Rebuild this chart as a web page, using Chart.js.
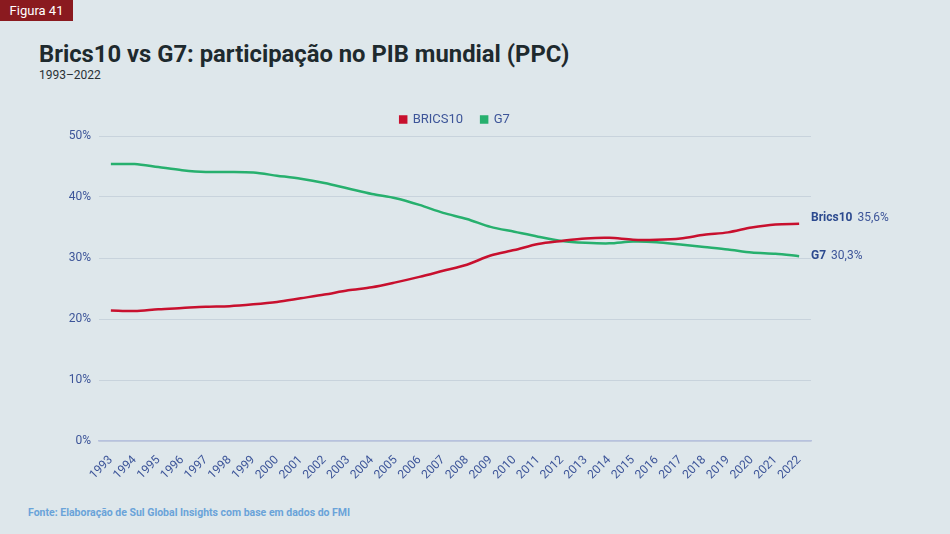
<!DOCTYPE html>
<html><head><meta charset="utf-8">
<script src="https://cdn.jsdelivr.net/npm/chart.js@4/dist/chart.umd.min.js"></script>
<style>
html,body{margin:0;padding:0;}
body{width:950px;height:534px;background:#dee7eb;position:relative;overflow:hidden;font-family:Roboto,"Noto Sans",sans-serif;}
#badge{position:absolute;left:0;top:0;width:73px;height:21px;background:#8a1a1f;color:#fff;font-size:13px;line-height:21px;text-align:center;}
#title{position:absolute;left:39px;top:40px;font-size:23.8px;font-weight:700;color:#1e2a2e;white-space:nowrap;}
#sub{position:absolute;left:39px;top:68px;font-size:12px;color:#2a3236;}
#src{position:absolute;left:28px;top:506px;font-size:10.5px;font-weight:700;color:#6aa3d9;white-space:nowrap;}
#wrap{position:absolute;left:0;top:89px;width:950px;height:411px;}
</style></head>
<body>
<div id="badge">Figura 41</div>
<div id="title">Brics10 vs G7: participação no PIB mundial (PPC)</div>
<div id="sub">1993–2022</div>
<div id="wrap"><canvas id="c"></canvas></div>
<div id="src">Fonte: Elaboração de Sul Global Insights com base em dados do FMI</div>
<script>
const years = ["1993","1994","1995","1996","1997","1998","1999","2000","2001","2002","2003","2004","2005","2006","2007","2008","2009","2010","2011","2012","2013","2014","2015","2016","2017","2018","2019","2020","2021","2022"];
const brics10 = [21.4,21.3,21.6,21.8,22.0,22.1,22.4,22.8,23.4,24.0,24.7,25.2,26.0,26.9,27.9,28.9,30.4,31.3,32.3,32.8,33.2,33.3,33.0,33.0,33.2,33.8,34.2,35.0,35.5,35.6];
const g7 = [45.4,45.4,44.9,44.4,44.1,44.1,44.0,43.5,43.0,42.3,41.4,40.5,39.8,38.7,37.4,36.4,35.1,34.3,33.5,32.8,32.5,32.4,32.7,32.6,32.2,31.8,31.4,30.9,30.7,30.3];
const yTicks = [0,10,20,30,40,50];
const endLabels = [
  {name:"Brics10", value:"35,6%", dy:-6},
  {name:"G7", value:"30,3%", dy:0}
];

const endLabelPlugin = {
  id:'endLabels',
  afterDatasetsDraw(chart){
    const ctx = chart.ctx;
    const x0 = chart.chartArea.right;
    chart.data.datasets.forEach((ds,i)=>{
      const meta = chart.getDatasetMeta(i);
      const pt = meta.data[meta.data.length-1];
      const lab = endLabels[i];
      const y = pt.y + lab.dy;
      ctx.save();
      ctx.textBaseline='middle';
      ctx.fillStyle='#2c4a8f';
      ctx.font='bold 12px Roboto';
      ctx.fillText(lab.name, x0, y);
      const w = ctx.measureText(lab.name).width;
      ctx.font='12px Roboto';
      ctx.fillStyle='#3d5599';
      ctx.fillText(lab.value, x0 + w + 5, y);
      ctx.restore();
    });
  }
};

new Chart(document.getElementById('c'), {
  type:'line',
  data:{
    labels: years,
    datasets:[
      {label:'BRICS10', data:brics10, borderColor:'#c8102e', backgroundColor:'#c8102e', borderWidth:2.5, pointRadius:0, tension:0.3},
      {label:'G7', data:g7, borderColor:'#27b06e', backgroundColor:'#27b06e', borderWidth:2.5, pointRadius:0, tension:0.3}
    ]
  },
  options:{
    responsive:true, maintainAspectRatio:false, animation:false,
    layout:{padding:{left:20,right:139,top:6,bottom:19}},
    plugins:{
      legend:{position:'top', fullSize:false,
        labels:{usePointStyle:true, pointStyle:'rect', boxWidth:6, boxHeight:6, color:'#3d5599', font:{family:'Roboto', size:13}, padding:18}},
      tooltip:{enabled:false}
    },
    scales:{
      x:{offset:true,
        grid:{display:false},
        border:{display:true, color:'#b7c2de', width:1.5},
        ticks:{minRotation:45, maxRotation:45, autoSkip:false, color:'#3d5599', font:{family:'Roboto', size:12}, padding:4},
        afterFit(s){ s.height = 40; }
      },
      y:{min:0, max:50,
        afterBuildTicks(s){ s.ticks = yTicks.map(v=>({value:v})); },
        grid:{color:'#c8d3dc', drawTicks:false},
        border:{display:false},
        ticks:{callback:v=>v+'%', color:'#3d5599', font:{family:'Roboto', size:12}, padding:8},
        afterFit(s){ s.width = 79; }
      }
    }
  },
  plugins:[endLabelPlugin]
});
</script>
</body></html>
